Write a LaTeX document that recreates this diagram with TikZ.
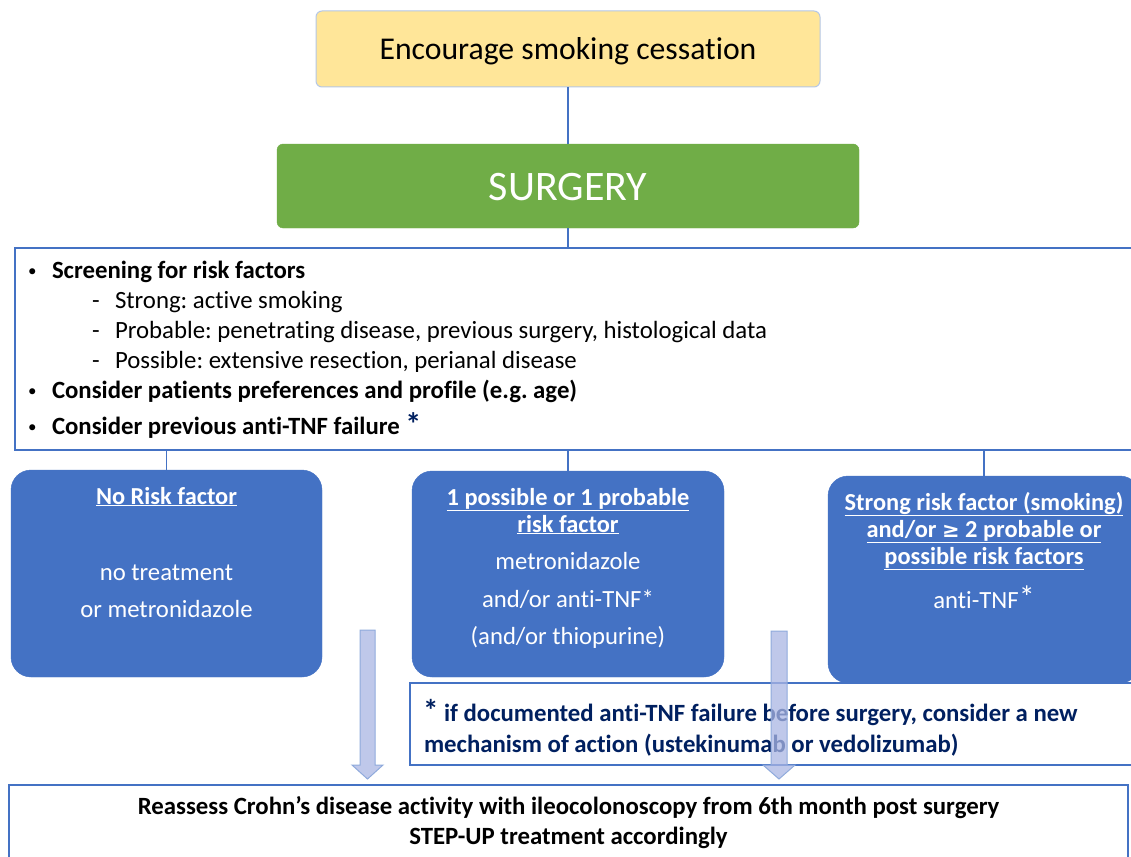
\documentclass[tikz,border=0pt]{standalone}
\usepackage{fontspec}
\setmainfont[RawFeature={-liga}]{Carlito}
\newfontfamily\symfont{DejaVu Sans}
\definecolor{myblue}{HTML}{4472C4}
\definecolor{navy}{HTML}{002060}
\definecolor{yel}{HTML}{FFE699}
\definecolor{yelborder}{HTML}{B4C7E7}
\definecolor{grn}{HTML}{70AD47}
\definecolor{arrfill}{HTML}{AAB6E4}
\definecolor{arrdraw}{HTML}{8FAADC}
\newcommand{\fs}[1]{\fontsize{#1}{#1}\selectfont}
\begin{document}
\frenchspacing
\begin{tikzpicture}[x=1pt,y=-1pt,
  every node/.style={inner sep=0pt,outer sep=0pt},
  conn/.style={draw=myblue,line width=1.5pt},
  yelbox/.style={fill=yel,draw=yelborder,line width=1pt,rounded corners=6pt},
  grnbox/.style={fill=grn,draw=grn,rounded corners=6pt},
  whitebox/.style={fill=white,draw=myblue,line width=1.5pt},
  bluebox/.style={fill=myblue,draw=myblue,rounded corners=20pt},
  bul/.style={anchor=base west,font=\fs{17}},
  txt/.style={anchor=base west,font=\fs{24.8}},
  btxt/.style={anchor=base west,font=\fs{24.8}\bfseries},
  wtxt/.style={anchor=base,text=white,font=\fs{24.7}},
  whead/.style={anchor=base,text=white,font=\fs{24.4}\bfseries},
  ntxt/.style={anchor=base west,text=navy,font=\fs{24.8}\bfseries},
  blockarrow/.style={fill=arrfill,fill opacity=0.75,draw=arrdraw,line width=1pt}
]
\clip (0,0) rectangle (1131,856);
\fill[white] (0,0) rectangle (1131,856);

% top boxes
\node[yelbox,minimum width=504pt,minimum height=76pt] (enc) at (568,49) {};
\node[anchor=base,font=\fs{31.7}] (enct) at (568,59.5) {Encourage smoking cessation};
\node[grnbox,minimum width=582pt,minimum height=84pt] (surg) at (568,186) {};
\node[anchor=base,text=white,font=\fs{42}] (surgt) at (568,200) {SURGERY};

% screening box
\node[whitebox,minimum width=1125pt,minimum height=202pt] (scr) at (577.5,349) {};
\node[bul] (b1) at (28,276) {•};
\node[btxt] (s1) at (52,278) {Screening for risk factors};
\node[txt] (d1) at (92,308) {-};
\node[txt] (s2) at (115,308) {Strong: active smoking};
\node[txt] (d2) at (92,338) {-};
\node[txt] (s3) at (115,338) {Probable: penetrating disease, previous surgery, histological data};
\node[txt] (d3) at (92,368) {-};
\node[txt] (s4) at (115,368) {Possible: extensive resection, perianal disease};
\node[bul] (b2) at (28,396) {•};
\node[btxt] (s5) at (52,398) {Consider patients preferences and profile (e.g. age)};
\node[bul] (b3) at (28,432) {•};
\node[btxt] (s6) at (52,434) {Consider previous anti-TNF failure \raisebox{-1pt}{\textcolor{navy}{\fs{32}\bfseries*}}};

% connectors
\draw[conn] (enc.south) -- (surg.north);
\draw[conn] (surg.south) -- (surg.south |- scr.north);

% risk boxes
\node[bluebox,minimum width=311pt,minimum height=207pt] (left) at (166.5,573.5) {};
\node[bluebox,minimum width=312pt,minimum height=206pt] (mid) at (568,574) {};
\node[bluebox,minimum width=312pt,minimum height=207pt] (right) at (984,579.5) {};

\draw[conn] (left.north |- scr.south) -- (left.north);
\draw[conn] (mid.north |- scr.south) -- (mid.north);
\draw[conn] (right.north |- scr.south) -- (right.north);

\node[whead] (l1) at (166.5,504) {\underline{No Risk factor}};
\node[wtxt] (l2) at (166.5,580) {no treatment};
\node[wtxt] (l3) at (166.5,617) {or metronidazole};

\node[whead] (m1) at (568,505) {\underline{1 possible or 1 probable}};
\node[whead] (m2) at (568,532) {\underline{risk factor}};
\node[wtxt] (m3) at (568,569) {metronidazole};
\node[wtxt] (m4) at (568,607) {and/or anti-TNF*};
\node[wtxt] (m5) at (568,644) {(and/or thiopurine)};

\node[whead] (r1) at (984,510) {\underline{Strong risk factor (smoking)}};
\node[whead] (r2) at (984,537) {\underline{and/or {\symfont\fs{21}≥} 2 probable or}};
\node[whead] (r3) at (984,564) {\underline{possible risk factors}};
\node[wtxt] (r4) at (984,608) {anti-TNF\raisebox{0pt}{\fs{32}*}};

% footnote box
\node[whitebox,minimum width=740pt,minimum height=82pt] (foot) at (780,724) {};
\node[ntxt] (f1) at (423,721) {\raisebox{0pt}{\fs{31}*} if documented anti-TNF failure before surgery, consider a new};
\node[ntxt] (f2) at (424,752) {mechanism of action (ustekinumab or vedolizumab)};

% bottom box
\node[whitebox,minimum width=1119pt,minimum height=85pt] (bot) at (568.5,827.5) {};
\node[anchor=base,font=\fs{24.8}\bfseries] (bt1) at (568.5,814) {Reassess Crohn’s disease activity with ileocolonoscopy from 6th month post surgery};
\node[anchor=base,font=\fs{24.8}\bfseries] (bt2) at (568.5,844) {STEP-UP treatment accordingly};

% block arrows
\coordinate (a1) at (367.5,630);
\coordinate (a1t) at (367.5,779);
\draw[blockarrow] ([xshift=-7.5pt]a1) -- ([xshift=7.5pt]a1) -- ([xshift=7.5pt]a1 |- 0,765) -- ([xshift=15.5pt]a1 |- 0,765) -- (a1t) -- ([xshift=-15.5pt]a1 |- 0,765) -- ([xshift=-7.5pt]a1 |- 0,765) -- cycle;
\coordinate (a2) at (779,631);
\coordinate (a2t) at (779,779);
\draw[blockarrow] ([xshift=-8pt]a2) -- ([xshift=8pt]a2) -- ([xshift=8pt]a2 |- 0,765) -- ([xshift=16pt]a2 |- 0,765) -- (a2t) -- ([xshift=-16pt]a2 |- 0,765) -- ([xshift=-8pt]a2 |- 0,765) -- cycle;
\end{tikzpicture}
\end{document}
